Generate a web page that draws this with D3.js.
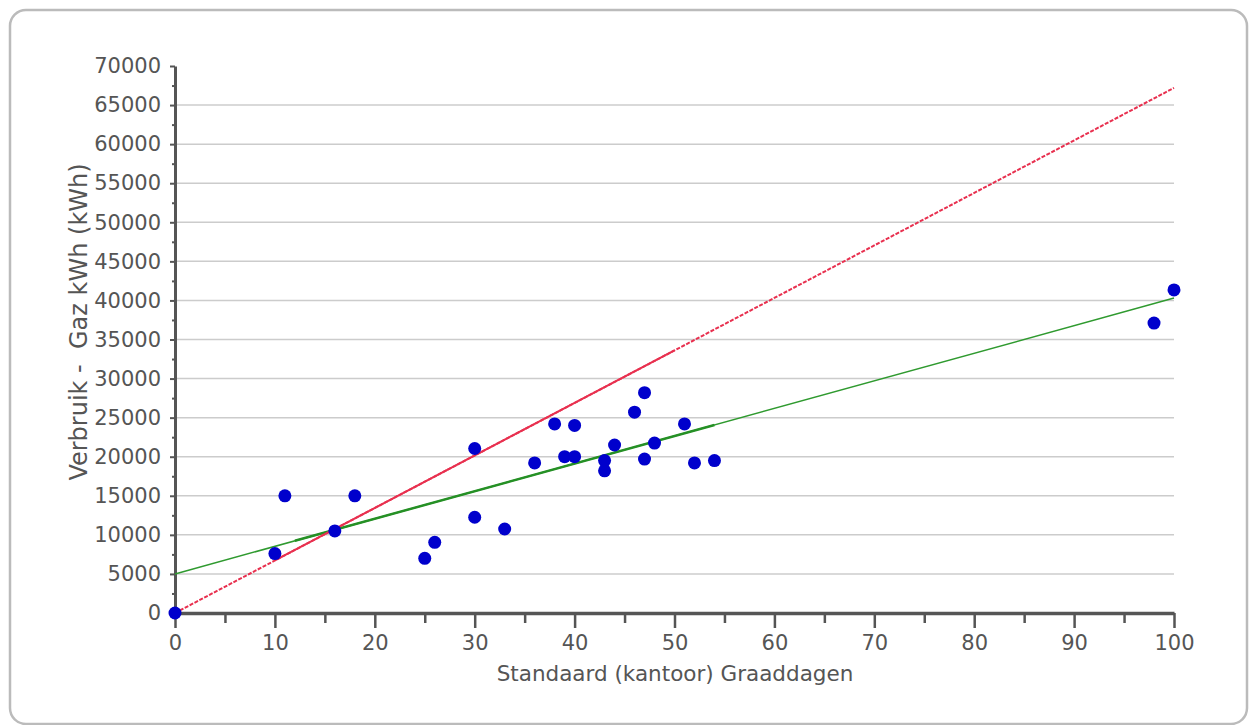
<!DOCTYPE html>
<html>
<head>
<meta charset="utf-8">
<script src="https://cdn.jsdelivr.net/npm/d3@7"></script>
<style>
  body { margin: 0; background: #fff; }
  text { font-family: "DejaVu Sans", Verdana, sans-serif; fill: #555; }
</style>
</head>
<body>
<div id="chart"></div>
<script>
// graaddagen (x) and gas use in kWh (y)
var graaddagen = [0, 10, 11, 16, 18, 25, 26, 30, 30, 33, 36, 38, 39, 40, 40, 43, 43, 44, 46, 47, 47, 48, 51, 52, 54, 98, 100]
var verbruik = [0, 7600, 15000, 10500, 15000, 7000, 9050, 21050, 12250, 10750, 19200, 24200, 20000, 24000, 20000, 19500, 18200, 21500, 25700, 28200, 19700, 21750, 24200, 19200, 19500, 37100, 41350]

// trend lines, read at the ends of the x range
var trendX = [0, 100]
var redTrend = [0, 67200]      // through origin
var greenTrend = [5000, 40300] // with intercept
// parts drawn solid / thicker
var redSolidX = [10, 50]
var greenSolidX = [12, 54]

var xTicks = [0, 10, 20, 30, 40, 50, 60, 70, 80, 90, 100]
var yTicks = [0, 5000, 10000, 15000, 20000, 25000, 30000, 35000, 40000, 45000, 50000, 55000, 60000, 65000, 70000]

var xTitle = "Standaard (kantoor) Graaddagen"
var yTitle = "Verbruik -  Gaz kWh (kWh)"

var W = 1249, H = 725
var margin = {top: 66, right: 75, bottom: 112, left: 175}
var width = W - margin.left - margin.right,
    height = H - margin.top - margin.bottom

var svg = d3.select("#chart").append("svg")
    .attr("width", W)
    .attr("height", H)

// frame
svg.append("rect")
    .attr("x", 10).attr("y", 10)
    .attr("width", W - 12).attr("height", H - 11)
    .attr("rx", 16)
    .attr("fill", "#fff")
    .attr("stroke", "#bbb")
    .attr("stroke-width", 2.5)

var g = svg.append("g")
    .attr("transform", "translate(" + margin.left + "," + margin.top + ")")

var scaleX = d3.scaleLinear().domain([0, 100]).range([0, width])
var scaleY = d3.scaleLinear().domain([0, 70000]).range([height, 0])

// GRIDLINES
g.selectAll(".grid")
    .data(yTicks.filter(v => v > 0 && v < 70000))
    .enter().append("line")
    .attr("x1", 0).attr("x2", width)
    .attr("y1", d => scaleY(d)).attr("y2", d => scaleY(d))
    .attr("stroke", "#ccc")
    .attr("stroke-width", 1.5)

// Y AXIS - minor ticks then major
g.append("g")
    .call(d3.axisLeft(scaleY).tickValues(d3.range(2500, 70000, 5000)).tickSize(3).tickFormat(""))
    .call(a => a.select(".domain").remove())
    .call(a => a.selectAll("line").attr("stroke", "#555").attr("stroke-width", 2))

g.append("g")
    .call(d3.axisLeft(scaleY).tickValues(yTicks).tickSize(5).tickSizeOuter(0).tickPadding(9).tickFormat(d3.format("d")))
    .call(a => a.select(".domain").attr("stroke", "#555").attr("stroke-width", 3))
    .call(a => a.selectAll(".tick line").attr("stroke", "#555").attr("stroke-width", 2))
    .call(a => a.selectAll(".tick text").style("font-size", "21px").attr("fill", "#555"))

// X AXIS
g.append("g")
    .attr("transform", "translate(0," + height + ")")
    .call(d3.axisBottom(scaleX).tickValues(d3.range(5, 100, 10)).tickSize(10).tickFormat(""))
    .call(a => a.select(".domain").remove())
    .call(a => a.selectAll("line").attr("stroke", "#555").attr("stroke-width", 2.5))

g.append("g")
    .attr("transform", "translate(0," + height + ")")
    .call(d3.axisBottom(scaleX).tickValues(xTicks).tickSize(15).tickSizeOuter(0).tickPadding(7).tickFormat(d3.format("d")))
    .call(a => a.select(".domain").attr("stroke", "#555").attr("stroke-width", 3.5))
    .call(a => a.selectAll(".tick line").attr("stroke", "#555").attr("stroke-width", 2.5))
    .call(a => a.selectAll(".tick text").style("font-size", "21px").attr("fill", "#555"))

// TREND LINES
var line = d3.line().x(d => scaleX(d[0])).y(d => scaleY(d[1]))

function trendAt(ys, x) {
  return ys[0] + (ys[1] - ys[0]) * (x - trendX[0]) / (trendX[1] - trendX[0])
}

var greenPts = trendX.map((x, i) => [x, greenTrend[i]])
var greenSolid = greenSolidX.map(x => [x, trendAt(greenTrend, x)])
var redPts = trendX.map((x, i) => [x, redTrend[i]])
var redSolid = redSolidX.map(x => [x, trendAt(redTrend, x)])

g.append("path").attr("d", line(greenPts))
    .attr("fill", "none").attr("stroke", "#2f9a2f").attr("stroke-width", 1.5)
g.append("path").attr("d", line(greenSolid))
    .attr("fill", "none").attr("stroke", "#259025").attr("stroke-width", 2.5)

g.append("path").attr("d", line(redPts))
    .attr("fill", "none").attr("stroke", "#e8304f").attr("stroke-width", 2)
    .attr("stroke-dasharray", "4,1.5")
g.append("path").attr("d", line(redSolid))
    .attr("fill", "none").attr("stroke", "#e8304f").attr("stroke-width", 2)

// POINTS
g.selectAll("circle")
    .data(graaddagen.map((x, i) => [x, verbruik[i]]))
    .enter().append("circle")
    .attr("cx", d => scaleX(d[0]))
    .attr("cy", d => scaleY(d[1]))
    .attr("r", 6.5)
    .style("fill", "#0000cc")

// AXIS TITLES
svg.append("text")
    .attr("x", 675)
    .attr("y", 681)
    .style("font-size", "21.5px")
    .style("text-anchor", "middle")
    .text(xTitle)

svg.append("text")
    .attr("transform", "translate(87,322) rotate(-90)")
    .style("font-size", "24px")
    .style("text-anchor", "middle")
    .style("white-space", "pre")
    .text(yTitle)
</script>
</body>
</html>
